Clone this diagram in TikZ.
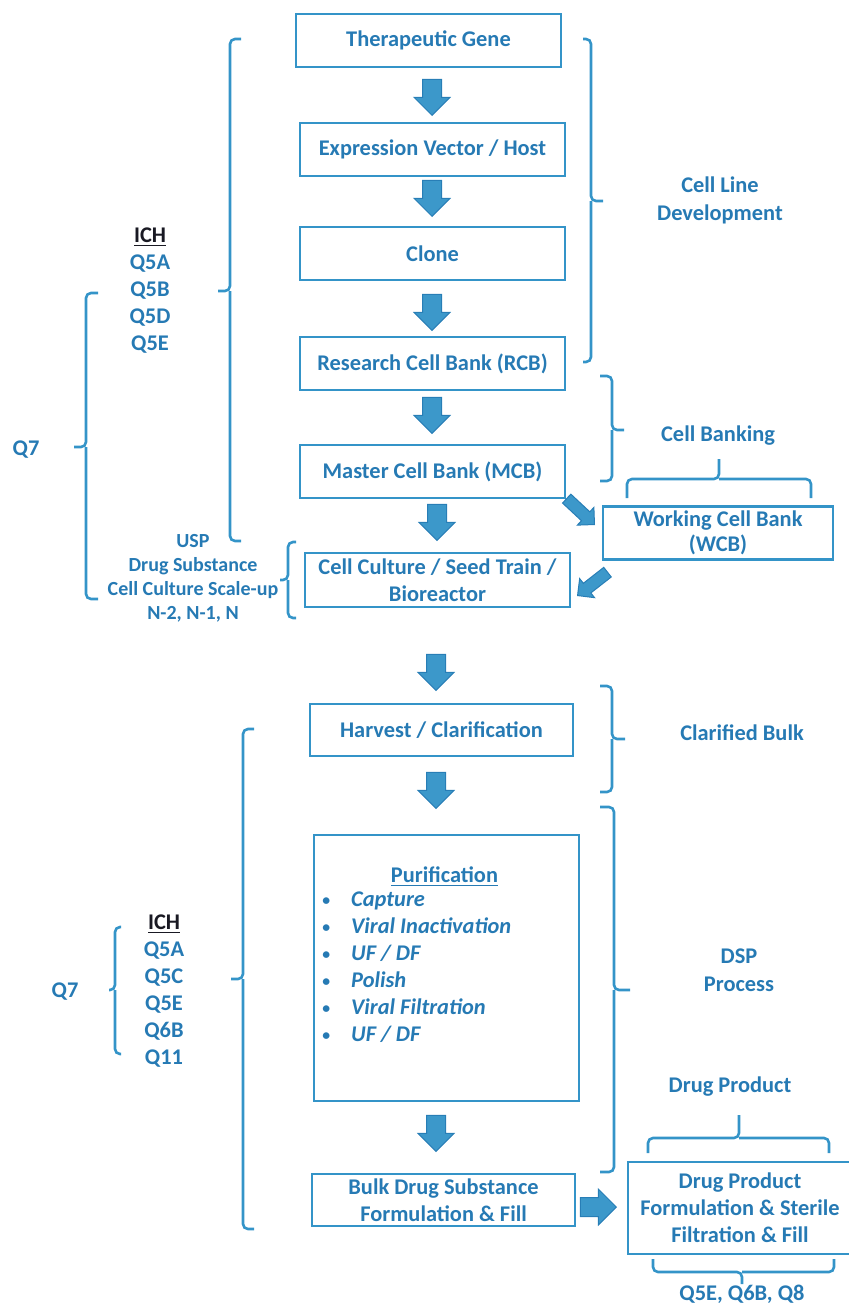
\documentclass[tikz,border=0pt]{standalone}
\usepackage{fontspec}
\setmainfont{Carlito}
\usetikzlibrary{shapes.arrows}
\definecolor{lineblue}{RGB}{52,148,200}
\definecolor{textblue}{RGB}{38,122,180}
\definecolor{arrowfill}{RGB}{60,152,202}
\definecolor{arrowdraw}{RGB}{40,126,182}
\definecolor{ichblack}{RGB}{25,25,35}
\newcommand{\smbul}{\raisebox{0.9pt}{\scalebox{0.7}{\textbullet}}}
\begin{document}
\begin{tikzpicture}[x=0.5pt,y=-0.5pt,
  every node/.style={font=\fontsize{11.2}{13.5}\selectfont\bfseries, text=textblue},
  box/.style={draw=lineblue, line width=1.2pt, minimum width=132.5pt, minimum height=26.5pt, align=center, inner sep=2pt},
  blockarrow/.style={single arrow, fill=arrowfill, draw=arrowdraw, line width=0.5pt, inner xsep=0pt, inner ysep=4.5pt, single arrow head extend=4.25pt, minimum height=18pt, minimum width=0pt},
  smallarrow/.style={blockarrow, inner ysep=2.8pt, single arrow head extend=3pt, minimum height=19pt},
  brace/.style={draw=lineblue, line width=1.3pt, rounded corners=2.5pt},
  lbl/.style={align=center}]
\useasboundingbox (0,0) rectangle (849,1307);

% ---- process boxes ----
\node[box] (tg) at (428.5,40.5) {Therapeutic Gene};
\node[box] (ev) at (432.5,149.5) {Expression Vector / Host};
\node[box] (cl) at (432.5,253.5) {Clone};
\node[box] (rcb) at (432.5,363.5) {Research Cell Bank (RCB)};
\node[box] (mcb) at (432.5,471.5) {Master Cell Bank (MCB)};
\node[box, minimum height=27pt] (cc) at (437.5,580) {Cell Culture / Seed Train /\\Bioreactor};
\node[box, minimum width=115pt, font=\fontsize{11.2}{12.5}\selectfont\bfseries] (wcb) at (718,533) {Working Cell Bank\\(WCB)};
\node[box, minimum width=131.5pt, minimum height=26pt] (hc) at (441.5,730) {Harvest / Clarification};
\node[box, minimum height=133pt] (pur) at (446.5,968) {};
\node[box, minimum width=131.5pt, minimum height=26pt] (bds) at (443.5,1200) {Bulk Drug Substance\\Formulation \& Fill};
\node[box, minimum width=112pt, minimum height=46pt] (dp) at (740,1208) {Drug Product\\Formulation \& Sterile\\Filtration \& Fill};

% ---- purification contents ----
\node (purt) at (444.5,877) {\underline{Purification}};
\node[anchor=west, inner sep=0pt] (purl) at (322,969) {\renewcommand{\arraystretch}{1}%
\begin{tabular}{@{}c@{\hspace{10.5pt}}l@{}}
\smbul & \textit{Capture}\\
\smbul & \textit{Viral Inactivation}\\
\smbul & \textit{UF / DF}\\
\smbul & \textit{Polish}\\
\smbul & \textit{Viral Filtration}\\
\smbul & \textit{UF / DF}
\end{tabular}};

% ---- block arrows ----
\node[blockarrow, rotate=-90, anchor=tip] (a1) at (432,116) {};
\node[blockarrow, rotate=-90, anchor=tip] (a2) at (432,217) {};
\node[blockarrow, rotate=-90, anchor=tip] (a3) at (432,331) {};
\node[blockarrow, rotate=-90, anchor=tip] (a4) at (432,434) {};
\node[blockarrow, rotate=-90, anchor=tip] (a5) at (437,541) {};
\node[blockarrow, rotate=-90, anchor=tip] (a6) at (436,691) {};
\node[blockarrow, rotate=-90, anchor=tip] (a7) at (436,809) {};
\node[blockarrow, rotate=-90, anchor=tip] (a8) at (436,1152) {};
\node[blockarrow, anchor=tip] (a9) at (617,1207) {};
\node[smallarrow, rotate=-43, anchor=tip] (d1) at (595,525) {};
\node[smallarrow, rotate=-142, anchor=tip] (d2) at (577,596) {};

% ---- braces ----
% Cell line development
\draw[brace] (583,39) -| (591,201) -- (603,201);
\draw[brace] (583,362) -| (591,201);
% Cell banking (right)
\draw[brace] (600,376) -| (612,430) -- (624,430);
\draw[brace] (600,481) -| (612,430);
% Cell banking (above WCB)
\draw[brace] (627,498) |- (719,479) -- (719,459);
\draw[brace] (811,498) |- (719,479);
% ICH upper
\draw[brace] (241,39) -| (230,291) -- (218,291);
\draw[brace] (241,541) -| (230,291);
% Q7 upper
\draw[brace] (98,293) -| (86,447) -- (74,447);
\draw[brace] (98,599) -| (86,447);
% cell culture small
\draw[brace] (296,542) -| (288,580) -- (280,580);
\draw[brace] (296,618) -| (288,580);
% clarified bulk
\draw[brace] (600,686) -| (612,739) -- (625,739);
\draw[brace] (600,792) -| (612,739);
% big lower left
\draw[brace] (254,729) -| (243,979) -- (231,979);
\draw[brace] (254,1229) -| (243,979);
% Q7 lower
\draw[brace] (121,927) -| (115,990) -- (109,990);
\draw[brace] (121,1054) -| (115,990);
% DSP
\draw[brace] (600,807) -| (614,990) -- (630,990);
\draw[brace] (600,1172) -| (614,990);
% drug product top
\draw[brace] (648,1153) |- (739,1138) -- (739,1115);
\draw[brace] (829,1153) |- (739,1138);
% drug product bottom
\draw[brace] (653,1259) |- (742,1272) -- (742,1284);
\draw[brace] (834,1259) |- (742,1272);

% ---- labels ----
\node[lbl, font=\fontsize{11.2}{14}\selectfont\bfseries] (cld) at (720,200) {Cell Line\\Development};
\node (cbk) at (718,436) {Cell Banking};
\node[lbl] (ich1) at (150,291) {\textcolor{ichblack}{\underline{ICH}}\\Q5A\\Q5B\\Q5D\\Q5E};
\node (q7a) at (26,450) {Q7};
\node[lbl, font=\fontsize{10}{12}\selectfont\bfseries] (usp) at (193,578) {USP\\Drug Substance\\Cell Culture Scale-up\\N-2, N-1, N};
\node (cbu) at (742,733) {Clarified Bulk};
\node[lbl] (ich2) at (164,991) {\textcolor{ichblack}{\underline{ICH}}\\Q5A\\Q5C\\Q5E\\Q6B\\Q11};
\node (q7b) at (65,992) {Q7};
\node[lbl, font=\fontsize{11.2}{14}\selectfont\bfseries] (dsp) at (739,970) {DSP\\Process};
\node (dpl) at (730,1087) {Drug Product};
\node (qdp) at (742,1294) {Q5E, Q6B, Q8};
\end{tikzpicture}
\end{document}
